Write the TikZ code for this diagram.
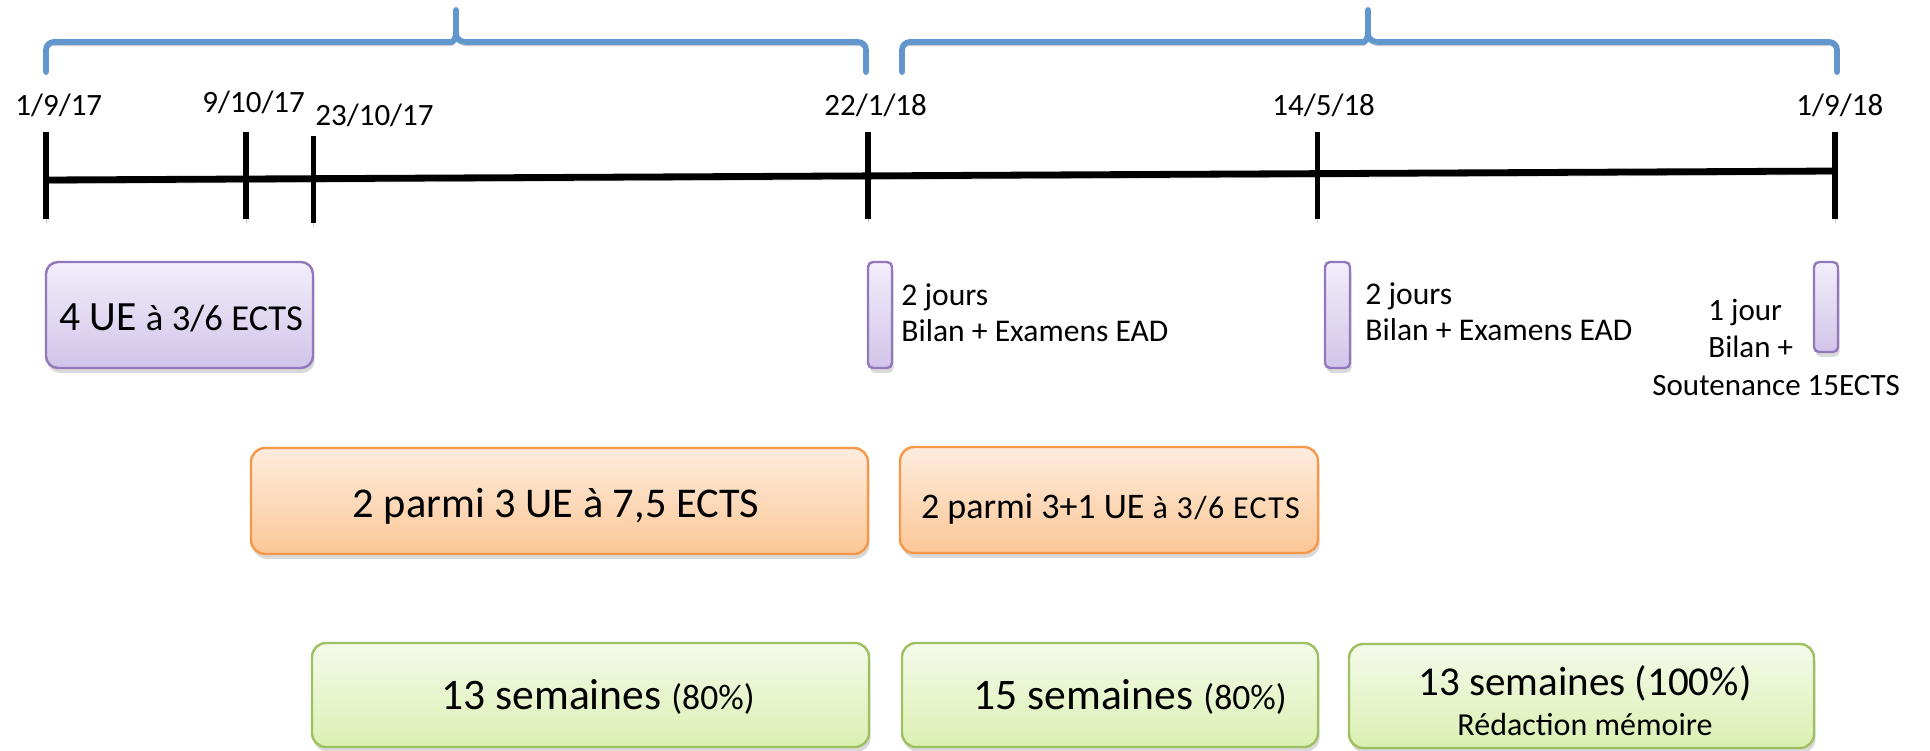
\documentclass[tikz,border=0pt]{standalone}
\usepackage{fontspec}
\setmainfont{Carlito}
\usetikzlibrary{shadows}

\definecolor{bracec}{RGB}{98,151,206}
\definecolor{pborder}{RGB}{146,120,186}
\definecolor{ptop}{RGB}{242,238,250}
\definecolor{pbot}{RGB}{210,196,233}
\definecolor{oborder}{RGB}{247,152,72}
\definecolor{otop}{RGB}{253,236,222}
\definecolor{obot}{RGB}{251,199,150}
\definecolor{gborder}{RGB}{158,192,96}
\definecolor{gtop}{RGB}{244,250,234}
\definecolor{gbot}{RGB}{219,240,178}

\newcommand{\fdate}{\fontsize{15.5pt}{18pt}\selectfont}
\newcommand{\fnote}{\fontsize{15.8pt}{18pt}\selectfont}

\begin{document}
\begin{tikzpicture}[x=0.5pt,y=-0.5pt,
  lshadow/.style={preaction={draw=black, draw opacity=0.2, transform canvas={yshift=-1.8pt}}},
  axisline/.style={lshadow, line width=3.4pt, black},
  tickline/.style={lshadow, line width=2.7pt, black},
  bracket/.style={lshadow, line width=2.9pt, bracec, line cap=round, line join=round},
  boxbase/.style={rectangle, line width=1.2pt, inner sep=0pt,
    drop shadow={opacity=0.3, shadow xshift=0.8pt, shadow yshift=-2.4pt}},
  pbox/.style={boxbase, rounded corners=6pt, draw=pborder, top color=ptop, bottom color=pbot},
  pbar/.style={boxbase, rounded corners=2.5pt, draw=pborder, top color=ptop, bottom color=pbot},
  obox/.style={boxbase, rounded corners=7pt, draw=oborder, top color=otop, bottom color=obot},
  gbox/.style={boxbase, rounded corners=7pt, draw=gborder, top color=gtop, bottom color=gbot},
  datelbl/.style={inner sep=0pt, anchor=base west, font=\fdate},
  lbl/.style={inner sep=0pt, anchor=base west, font=\fnote},
  ctext/.style={inner sep=0pt, anchor=base}
]
\useasboundingbox (0,0) rectangle (1930,750);

% ---- braces over the two semesters ----
\draw[bracket] (46,72) [rounded corners=4pt] -- (46,42) -- (444,42) [sharp corners]
  .. controls (452,42) and (456,40) .. (456,32) -- (456,10) -- (456,32)
  .. controls (456,40) and (460,42) .. (468,42) [rounded corners=4pt] -- (866,42) -- (866,72);
\draw[bracket] (902,72) [rounded corners=4pt] -- (902,42) -- (1356,42) [sharp corners]
  .. controls (1364,42) and (1368,40) .. (1368,32) -- (1368,10) -- (1368,32)
  .. controls (1368,40) and (1372,42) .. (1380,42) [rounded corners=4pt] -- (1837,42) -- (1837,72);

% ---- time axis ----
\coordinate (ax0) at (46,180);
\coordinate (ax1) at (1835,171);
\draw[axisline] (ax0) -- (ax1);

\coordinate (k0a) at (46,132);    \coordinate (k0b) at (46,219);
\coordinate (k1a) at (246,132);   \coordinate (k1b) at (246,219);
\coordinate (k2a) at (313.5,136); \coordinate (k2b) at (313.5,223);
\coordinate (k3a) at (868,132);   \coordinate (k3b) at (868,219);
\coordinate (k4a) at (1317.6,132);\coordinate (k4b) at (1317.6,219);
\coordinate (k5a) at (1835,132);  \coordinate (k5b) at (1835,219);
\foreach \k in {0,...,5} { \draw[tickline] (k\k a) -- (k\k b); }

% ---- dates ----
\node[datelbl] (d0) at (15,115)   {1/9/17};
\node[datelbl] (d1) at (202,112)  {9/10/17};
\node[datelbl] (d2) at (315,125)  {23/10/17};
\node[datelbl] (d3) at (824,115)  {22/1/18};
\node[datelbl] (d4) at (1272,115) {14/5/18};
\node[datelbl] (d5) at (1796,115) {1/9/18};

% ---- row 1: first UE block and assessment days ----
\node[pbox, minimum width=133.5pt, minimum height=53pt] (ue4) at (179.5,315) {};
\node[ctext] (ue4t) at (181,330)
  {{\fontsize{20.8pt}{24pt}\selectfont 4 UE\ }{\fontsize{18.3pt}{22pt}\selectfont à 3/6 ECTS}};

\node[pbar, minimum width=12pt, minimum height=53pt] (bar1) at (880,315) {};
\node[pbar, minimum width=12.5pt, minimum height=53pt] (bar2) at (1337.5,315) {};
\node[pbar, minimum width=12pt, minimum height=45pt] (bar3) at (1826,307) {};

\node[lbl] (b1a) at (901,305) {2 jours};
\node[lbl] (b1b) at (901,341) {Bilan + Examens EAD};
\node[lbl] (b2a) at (1365,304) {2 jours};
\node[lbl] (b2b) at (1365,340) {Bilan + Examens EAD};
\node[lbl, font=\fdate] (b3a) at (1708,320) {1 jour};
\node[lbl, font=\fdate] (b3b) at (1708,357) {Bilan +};
\node[lbl, font=\fdate] (b3c) at (1652,395) {Soutenance 15ECTS};

% ---- row 2: elective UE ----
\node[obox, minimum width=308.5pt, minimum height=53pt] (opt1) at (559.5,501) {};
\node[ctext] (opt1t) at (556,517) {\fontsize{21.2pt}{25pt}\selectfont 2 parmi 3 UE à 7,5 ECTS};
\node[obox, minimum width=209pt, minimum height=53pt] (opt2) at (1109,500) {};
\node[ctext] (opt2t) at (1110.5,518)
  {{\fontsize{18pt}{21pt}\selectfont 2 parmi 3+1 UE\ }{\fontsize{16pt}{19pt}\selectfont\addfontfeature{LetterSpace=4.5}à 3/6 ECTS}};

% ---- row 3: weeks ----
\node[gbox, minimum width=278.5pt, minimum height=52pt] (w1) at (590.5,695) {};
\node[ctext] (w1t) at (598,709)
  {{\fontsize{21.8pt}{25pt}\selectfont 13 semaines\ }{\fontsize{17.8pt}{21pt}\selectfont (80\%)}};
\node[gbox, minimum width=208pt, minimum height=52pt] (w2) at (1110,695) {};
\node[ctext] (w2t) at (1130,709)
  {{\fontsize{21.8pt}{25pt}\selectfont 15 semaines\ }{\fontsize{17.8pt}{21pt}\selectfont (80\%)}};
\node[gbox, minimum width=232.5pt, minimum height=52pt] (w3) at (1581.5,696) {};
\node[ctext] (w3t) at (1585,695) {\fontsize{20.5pt}{24pt}\selectfont 13 semaines (100\%)};
\node[ctext] (w3u) at (1585,735) {\fontsize{16pt}{19pt}\selectfont Rédaction mémoire};
\end{tikzpicture}
\end{document}
